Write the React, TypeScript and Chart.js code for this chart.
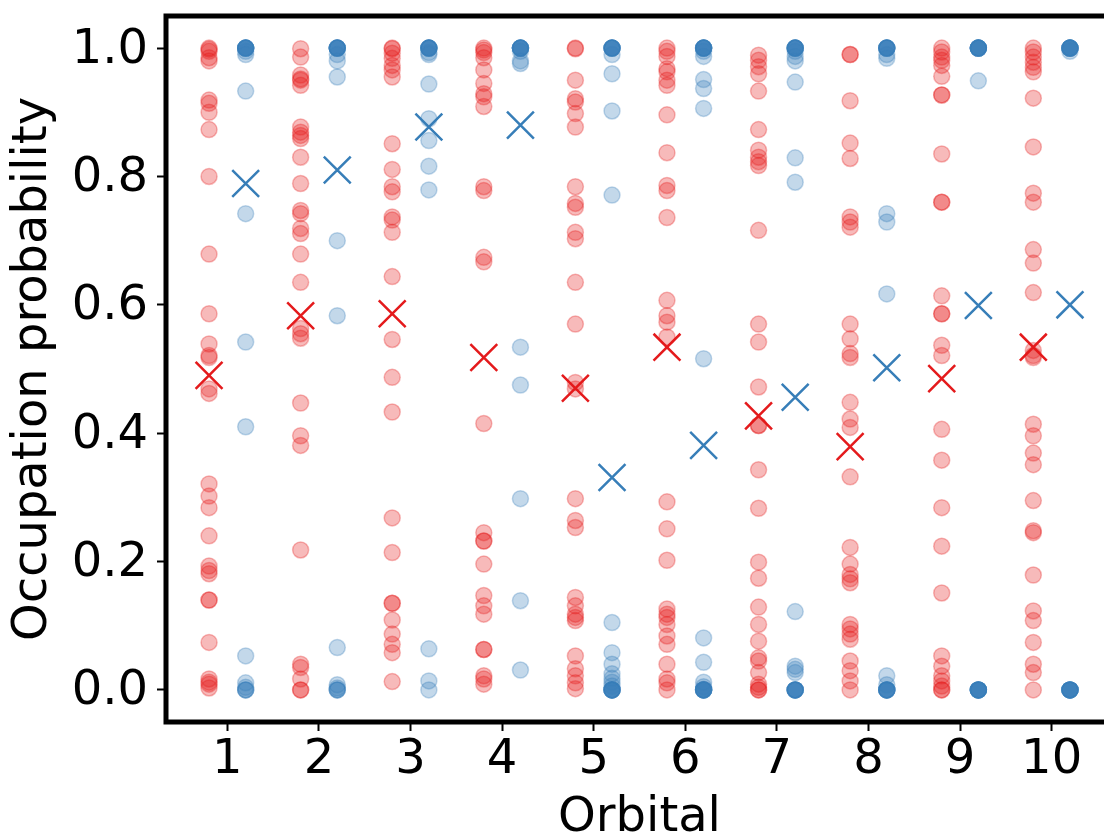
import React, { useEffect, useRef } from "react";
import { Chart, registerables } from "chart.js";

Chart.register(...registerables);

// ---------- data ----------
const orbitals = [1, 2, 3, 4, 5, 6, 7, 8, 9, 10];
const yTickValues = [0, 0.2, 0.4, 0.6, 0.8, 1.0];

const redOrb1 = [1.0, 0.998, 0.995, 0.985, 0.98, 0.919, 0.914, 0.9, 0.873, 0.8, 0.679, 0.586, 0.539, 0.521, 0.518, 0.469, 0.462, 0.321, 0.302, 0.284, 0.24, 0.193, 0.186, 0.181, 0.14, 0.14, 0.074, 0.017, 0.012, 0.009, 0.003];
const redOrb2 = [0.999, 0.986, 0.958, 0.952, 0.95, 0.942, 0.877, 0.869, 0.864, 0.859, 0.83, 0.789, 0.747, 0.742, 0.719, 0.711, 0.679, 0.635, 0.563, 0.555, 0.548, 0.447, 0.396, 0.381, 0.218, 0.04, 0.035, 0.017, 0.0, 0.0];
const redOrb3 = [1.0, 0.999, 0.992, 0.984, 0.973, 0.966, 0.955, 0.851, 0.811, 0.784, 0.776, 0.737, 0.732, 0.713, 0.644, 0.546, 0.487, 0.433, 0.268, 0.214, 0.135, 0.135, 0.109, 0.087, 0.071, 0.058, 0.013];
const redOrb4 = [1.0, 0.997, 0.993, 0.985, 0.966, 0.945, 0.929, 0.924, 0.909, 0.784, 0.778, 0.674, 0.667, 0.415, 0.245, 0.232, 0.232, 0.196, 0.147, 0.131, 0.118, 0.063, 0.063, 0.022, 0.017, 0.009];
const redOrb5 = [1.0, 0.999, 0.95, 0.921, 0.916, 0.898, 0.877, 0.784, 0.758, 0.752, 0.713, 0.703, 0.635, 0.57, 0.479, 0.469, 0.298, 0.264, 0.253, 0.144, 0.131, 0.118, 0.113, 0.108, 0.053, 0.033, 0.022, 0.011, 0.002];
const redOrb6 = [1.0, 0.995, 0.987, 0.968, 0.963, 0.95, 0.942, 0.896, 0.837, 0.786, 0.778, 0.736, 0.607, 0.583, 0.573, 0.55, 0.293, 0.251, 0.202, 0.126, 0.118, 0.113, 0.102, 0.084, 0.071, 0.04, 0.017, 0.011, 0.0];
const redOrb7 = [0.989, 0.981, 0.971, 0.96, 0.933, 0.873, 0.841, 0.83, 0.823, 0.817, 0.716, 0.57, 0.542, 0.472, 0.412, 0.412, 0.343, 0.283, 0.199, 0.174, 0.129, 0.102, 0.076, 0.05, 0.045, 0.027, 0.009, 0.004, 0.0, 0.0];
const redOrb8 = [0.99, 0.99, 0.918, 0.852, 0.828, 0.737, 0.729, 0.721, 0.57, 0.547, 0.524, 0.518, 0.448, 0.422, 0.409, 0.332, 0.222, 0.196, 0.18, 0.173, 0.167, 0.102, 0.095, 0.087, 0.079, 0.045, 0.03, 0.014, 0.0];
const redOrb9 = [1.0, 0.994, 0.986, 0.981, 0.973, 0.956, 0.927, 0.927, 0.835, 0.76, 0.76, 0.614, 0.586, 0.586, 0.537, 0.521, 0.406, 0.358, 0.284, 0.224, 0.151, 0.053, 0.037, 0.022, 0.014, 0.006, 0.0, 0.0];
const redOrb10 = [1.0, 0.994, 0.986, 0.978, 0.97, 0.963, 0.922, 0.846, 0.774, 0.76, 0.686, 0.665, 0.619, 0.529, 0.521, 0.518, 0.414, 0.396, 0.369, 0.351, 0.295, 0.248, 0.245, 0.179, 0.123, 0.108, 0.074, 0.04, 0.027, 0.0];

const blueOrb1 = [1, 1, 1, 1, 1, 1, 1, 1, 0.995, 0.99, 0.933, 0.742, 0.542, 0.41, 0.053, 0.011, 0.004, 0.0, 0.0, 0.0];
const blueOrb2 = [1, 1, 1, 1, 1, 1, 1, 1, 0.99, 0.98, 0.955, 0.7, 0.583, 0.066, 0.008, 0.003, 0.0, 0.0, 0.0];
const blueOrb3 = [1, 1, 1, 1, 1, 1, 1, 1, 0.993, 0.99, 0.944, 0.89, 0.856, 0.816, 0.779, 0.064, 0.014, 0.0];
const blueOrb4 = [1, 1, 1, 1, 1, 1, 1, 1, 0.995, 0.98, 0.976, 0.534, 0.475, 0.298, 0.139, 0.031];
const blueOrb5 = [1, 1, 1, 1, 1, 1, 1, 1, 0.99, 0.96, 0.902, 0.771, 0.105, 0.058, 0.04, 0.025, 0.018, 0.012, 0.006, 0, 0, 0, 0, 0, 0, 0, 0];
const blueOrb6 = [1, 1, 1, 1, 1, 1, 1, 1, 0.995, 0.987, 0.951, 0.937, 0.906, 0.516, 0.081, 0.043, 0.012, 0.005, 0.001, 0, 0, 0, 0, 0, 0, 0, 0];
const blueOrb7 = [1, 1, 1, 1, 1, 1, 1, 1, 0.995, 0.987, 0.98, 0.947, 0.829, 0.791, 0.122, 0.037, 0.032, 0.027, 0, 0, 0, 0, 0, 0, 0, 0];
const blueOrb8 = [1, 1, 1, 1, 1, 1, 1, 1, 0.99, 0.984, 0.742, 0.729, 0.617, 0.022, 0.008, 0, 0, 0, 0, 0, 0, 0, 0];
const blueOrb9 = [1, 1, 1, 1, 1, 1, 1, 1, 1, 1, 0.949, 0, 0, 0, 0, 0, 0, 0, 0, 0, 0];
const blueOrb10 = [1, 1, 1, 1, 1, 1, 1, 1, 1, 1, 0.995, 0, 0, 0, 0, 0, 0, 0, 0, 0, 0];

const redSamples = [redOrb1, redOrb2, redOrb3, redOrb4, redOrb5, redOrb6, redOrb7, redOrb8, redOrb9, redOrb10];
const blueSamples = [blueOrb1, blueOrb2, blueOrb3, blueOrb4, blueOrb5, blueOrb6, blueOrb7, blueOrb8, blueOrb9, blueOrb10];

const redMeans = [0.49, 0.583, 0.586, 0.518, 0.47, 0.534, 0.427, 0.379, 0.485, 0.534];
const blueMeans = [0.789, 0.81, 0.877, 0.88, 0.331, 0.381, 0.456, 0.502, 0.599, 0.6];

// ---------- styles ----------
const RED = "#e41a1c";
const BLUE = "#377eb8";
const RED_A = "rgba(228,26,28,0.3)";
const BLUE_A = "rgba(55,126,184,0.3)";
const FONT = "'DejaVu Sans', sans-serif";
const DODGE = 0.2;

const spinePlugin = {
  id: "spines",
  afterDraw(chart: any) {
    const { ctx, chartArea } = chart;
    ctx.save();
    ctx.strokeStyle = "#000";
    ctx.lineWidth = 5;
    ctx.lineJoin = "miter";
    ctx.strokeRect(chartArea.left, chartArea.top, chartArea.right - chartArea.left, chartArea.bottom - chartArea.top);
    ctx.restore();
  },
};

export default function App() {
  const ref = useRef<HTMLCanvasElement>(null);

  useEffect(() => {
    const canvas = ref.current;
    if (!canvas) return;

    const redPts = redSamples.flatMap((vals, i) => vals.map((v) => ({ x: orbitals[i] - DODGE, y: v })));
    const bluePts = blueSamples.flatMap((vals, i) => vals.map((v) => ({ x: orbitals[i] + DODGE, y: v })));
    const redMeanPts = redMeans.map((v, i) => ({ x: orbitals[i] - DODGE, y: v }));
    const blueMeanPts = blueMeans.map((v, i) => ({ x: orbitals[i] + DODGE, y: v }));

    const chart = new Chart(canvas, {
      type: "scatter",
      data: {
        datasets: [
          {
            label: "red",
            data: redPts,
            pointRadius: 8,
            pointBorderWidth: 1.5,
            backgroundColor: RED_A,
            borderColor: RED_A,
          },
          {
            label: "blue",
            data: bluePts,
            pointRadius: 8,
            pointBorderWidth: 1.5,
            backgroundColor: BLUE_A,
            borderColor: BLUE_A,
          },
          {
            label: "red mean",
            data: redMeanPts,
            pointStyle: "crossRot",
            pointRadius: 19,
            pointBorderWidth: 2.5,
            backgroundColor: RED,
            borderColor: RED,
          },
          {
            label: "blue mean",
            data: blueMeanPts,
            pointStyle: "crossRot",
            pointRadius: 19,
            pointBorderWidth: 2.5,
            backgroundColor: BLUE,
            borderColor: BLUE,
          },
        ],
      },
      options: {
        responsive: false,
        animation: false,
        devicePixelRatio: 1,
        layout: { autoPadding: false, padding: { left: 0, top: 16, right: 7, bottom: 0 } },
        plugins: { legend: { display: false }, tooltip: { enabled: false } },
        scales: {
          x: {
            type: "linear",
            min: 0.33,
            max: 10.67,
            afterBuildTicks: (scale: any) => {
              scale.ticks = orbitals.map((v) => ({ value: v }));
            },
            afterFit: (scale: any) => {
              scale.height = 114;
              scale.paddingLeft = 0;
              scale.paddingRight = 0;
            },
            ticks: {
              autoSkip: false,
              maxRotation: 0,
              padding: 1,
              color: "#000",
              font: { family: FONT, size: 48, lineHeight: 1.2 },
              callback: (v: any) => String(v),
            },
            grid: { drawOnChartArea: false, drawTicks: true, tickLength: 9, tickWidth: 2, tickColor: "#000" },
            border: { display: false },
            title: {
              display: true,
              text: "Orbital",
              color: "#000",
              font: { family: FONT, size: 48, lineHeight: 0.733 },
              padding: { top: 0, bottom: 0 },
            },
          },
          y: {
            type: "linear",
            min: -0.05,
            max: 1.05,
            afterBuildTicks: (scale: any) => {
              scale.ticks = yTickValues.map((v) => ({ value: v }));
            },
            afterFit: (scale: any) => {
              scale.width = 166;
              scale.paddingTop = 0;
              scale.paddingBottom = 0;
            },
            ticks: {
              padding: 9,
              labelOffset: 2,
              color: "#000",
              font: { family: FONT, size: 48, lineHeight: 1.2 },
              callback: (v: any) => Number(v).toFixed(1),
            },
            grid: { drawOnChartArea: false, drawTicks: true, tickLength: 9, tickWidth: 2, tickColor: "#000" },
            border: { display: false },
            title: {
              display: true,
              text: "Occupation probability",
              color: "#000",
              font: { family: FONT, size: 48, lineHeight: 0.733 },
              padding: { top: 16, bottom: 0 },
            },
          },
        },
      },
      plugins: [spinePlugin],
    } as any);

    return () => chart.destroy();
  }, []);

  return (
    <div style={{ position: "fixed", left: 0, top: 0, width: 1120, height: 836, background: "#fff" }}>
      <canvas ref={ref} width={1120} height={836} style={{ display: "block", width: 1120, height: 836 }} />
    </div>
  );
}
